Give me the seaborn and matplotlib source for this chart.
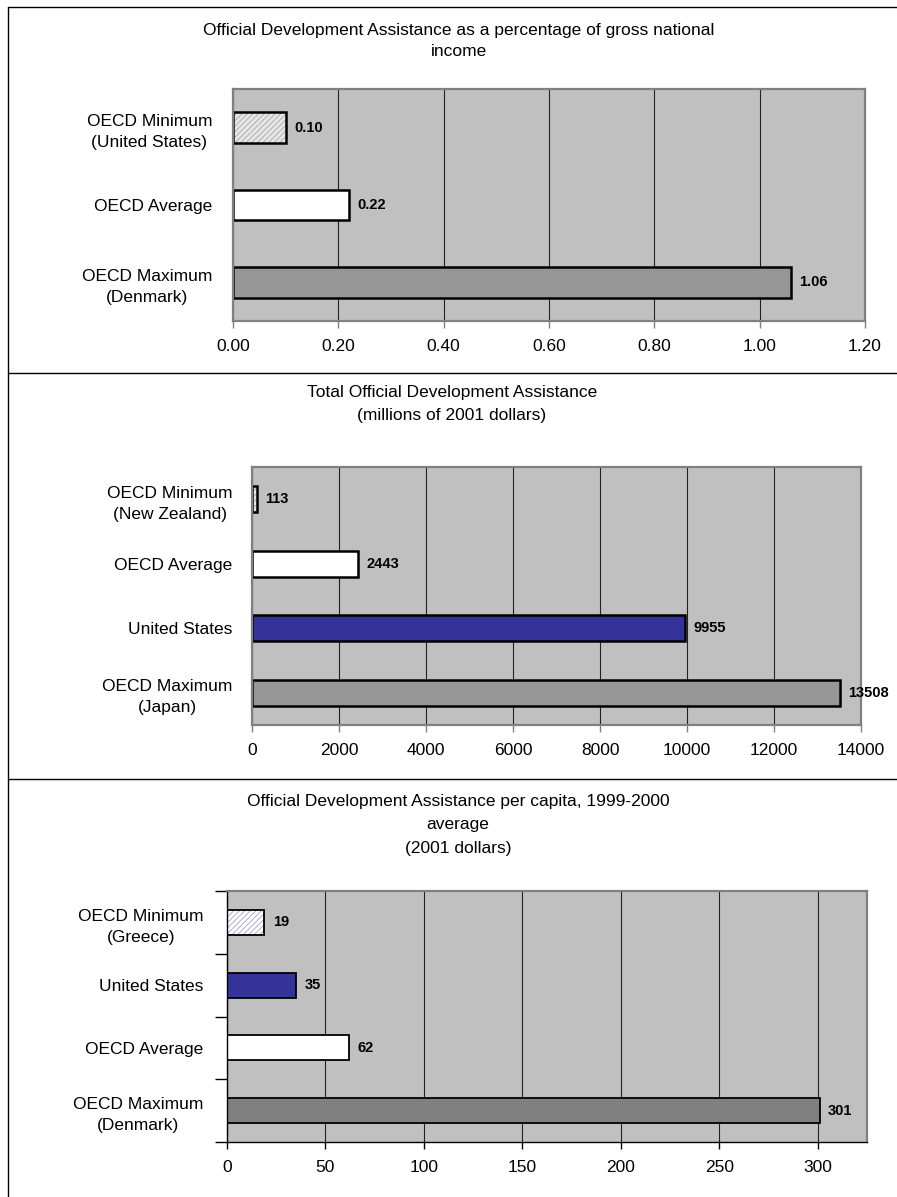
import matplotlib
matplotlib.use("Agg")
import matplotlib.pyplot as plt
import matplotlib.colors as mcolors
from matplotlib.lines import Line2D
import seaborn as sns
import numpy as np

# ---------------- data ----------------
p1_title = "Official Development Assistance as a percentage of gross national\nincome"
p1_labels = ["OECD Minimum\n(United States)", "OECD Average", "OECD Maximum\n(Denmark)"]
p1_values = [0.10, 0.22, 1.06]
p1_ticks = [0.0, 0.2, 0.4, 0.6, 0.8, 1.0, 1.2]

p2_title = "Total Official Development Assistance\n(millions of 2001 dollars)"
p2_labels = ["OECD Minimum\n(New Zealand)", "OECD Average", "United States", "OECD Maximum\n(Japan)"]
p2_values = [113, 2443, 9955, 13508]
p2_ticks = [0, 2000, 4000, 6000, 8000, 10000, 12000, 14000]

p3_title = "Official Development Assistance per capita, 1999-2000\naverage\n(2001 dollars)"
p3_labels = ["OECD Minimum\n(Greece)", "United States", "OECD Average", "OECD Maximum\n(Denmark)"]
p3_values = [19, 35, 62, 301]
p3_ticks = [0, 50, 100, 150, 200, 250, 300]

sns.set_theme(style="white")
plt.rcParams['font.family'] = ['Liberation Sans', 'DejaVu Sans']
plt.rcParams['hatch.linewidth'] = 0.5
plt.rcParams['text.color'] = 'black'
plt.rcParams['xtick.labelcolor'] = 'black'
plt.rcParams['ytick.labelcolor'] = 'black'

W, H = 897, 1197
fig = plt.figure(figsize=(W / 100, H / 100), dpi=100)
fig.patch.set_facecolor("white")


def rect(x0, y0, x1, y1):
    return [x0 / W, 1 - y1 / H, (x1 - x0) / W, (y1 - y0) / H]


BG = "#c0c0c0"
NAVY = "#333399"


def panel(pos, labels, values, colors, hatch_idx, hatch_col, ticks, xlim, fmt,
          tickfmt, dark_spines, ytick_marks, bar_lw, ypad):
    ax = fig.add_axes(pos)
    sns.barplot(x=values, y=labels, hue=labels, palette=colors, legend=False,
                orient="h", width=0.4, saturation=1, edgecolor="black",
                linewidth=bar_lw, ax=ax)
    ax.set_facecolor(BG)
    ax.set_xlim(*xlim)
    ax.set_xticks(ticks)
    ax.set_xticklabels([tickfmt(t) for t in ticks], fontsize=12.5)
    ax.set_xlabel("")
    ax.set_ylabel("")
    ax.set_axisbelow(True)
    ax.xaxis.grid(True, color="#222222", lw=0.8)
    ax.yaxis.grid(False)
    for lab in ax.get_yticklabels():
        lab.set_fontsize(12.5)
        lab.set_multialignment("center")
        lab.set_linespacing(1.5)
        lab.set_color("black")
    patches = [p for c in ax.containers for p in c]
    for i in hatch_idx:
        p = patches[i]
        p.set_hatch("//////")
        p._hatch_color = mcolors.to_rgba(hatch_col)
    for c in ax.containers:
        ax.bar_label(c, fmt=fmt, padding=6, fontsize=10.5, fontweight="bold",
                     color="black", clip_on=False)
    for s in ["top", "right"]:
        ax.spines[s].set_color("#808080")
        ax.spines[s].set_linewidth(1.6)
    if dark_spines:
        ax.spines["left"].set_color("black")
        ax.spines["bottom"].set_color("black")
        ax.spines["left"].set_linewidth(1.0)
        ax.spines["bottom"].set_linewidth(1.0)
        tick_col = "black"
    else:
        ax.spines["left"].set_color("#808080")
        ax.spines["bottom"].set_color("#808080")
        ax.spines["left"].set_linewidth(1.6)
        ax.spines["bottom"].set_linewidth(1.6)
        tick_col = "#808080"
    ax.tick_params(axis="x", direction="out", length=5, width=1,
                   color=tick_col, pad=8, bottom=True, labelcolor="black")
    ax.tick_params(axis="y", which="major", length=0, pad=ypad,
                   labelcolor="black")
    if ytick_marks:
        n = len(labels)
        ax.set_yticks(np.arange(-0.5, n, 1.0), minor=True)
        ax.tick_params(axis="y", which="minor", direction="out", length=9,
                       width=1, color="black", left=True)
    return ax


# Panel 1
panel(rect(233, 89, 865, 321), p1_labels, p1_values,
      ["#e6e6e6", "#ffffff", "#969696"], [0], "#9a9a9a",
      p1_ticks, (0, 1.2), "%.2f", lambda t: f"{t:.2f}", False, False, 1.8, 15)

# Panel 2
panel(rect(252, 467, 861, 725), p2_labels, p2_values,
      ["#e6e6e6", "#ffffff", NAVY, "#969696"], [0], "#9a9a9a",
      p2_ticks, (0, 14000), "%d", lambda t: f"{t:d}", False, False, 1.8, 14)

# Panel 3
panel(rect(227, 891, 867, 1142), p3_labels, p3_values,
      ["#ffffff", NAVY, "#ffffff", "#808080"], [0], "#9090c8",
      p3_ticks, (0, 325), "%d", lambda t: f"{t:d}", True, True, 1.3, 17)

# Titles
fig.text(459 / W, 1 - 41 / H, p1_title, ha="center", va="center",
         fontsize=12.5, linespacing=1.5)
fig.text(452 / W, 1 - 404 / H, p2_title, ha="center", va="center",
         fontsize=12.5, linespacing=1.6)
fig.text(458 / W, 1 - 825 / H, p3_title, ha="center", va="center",
         fontsize=12.5, linespacing=1.7)

# Panel border lines
def fline(x0, y0, x1, y1):
    fig.add_artist(Line2D([x0 / W, x1 / W], [1 - y0 / H, 1 - y1 / H],
                          transform=fig.transFigure, color="black", lw=1.0))

fline(8, 7, W, 7)
fline(8, 7, 8, H)
fline(8, 373, W, 373)
fline(8, 779, W, 779)

fig.savefig("out.png", dpi=100, facecolor="white")
